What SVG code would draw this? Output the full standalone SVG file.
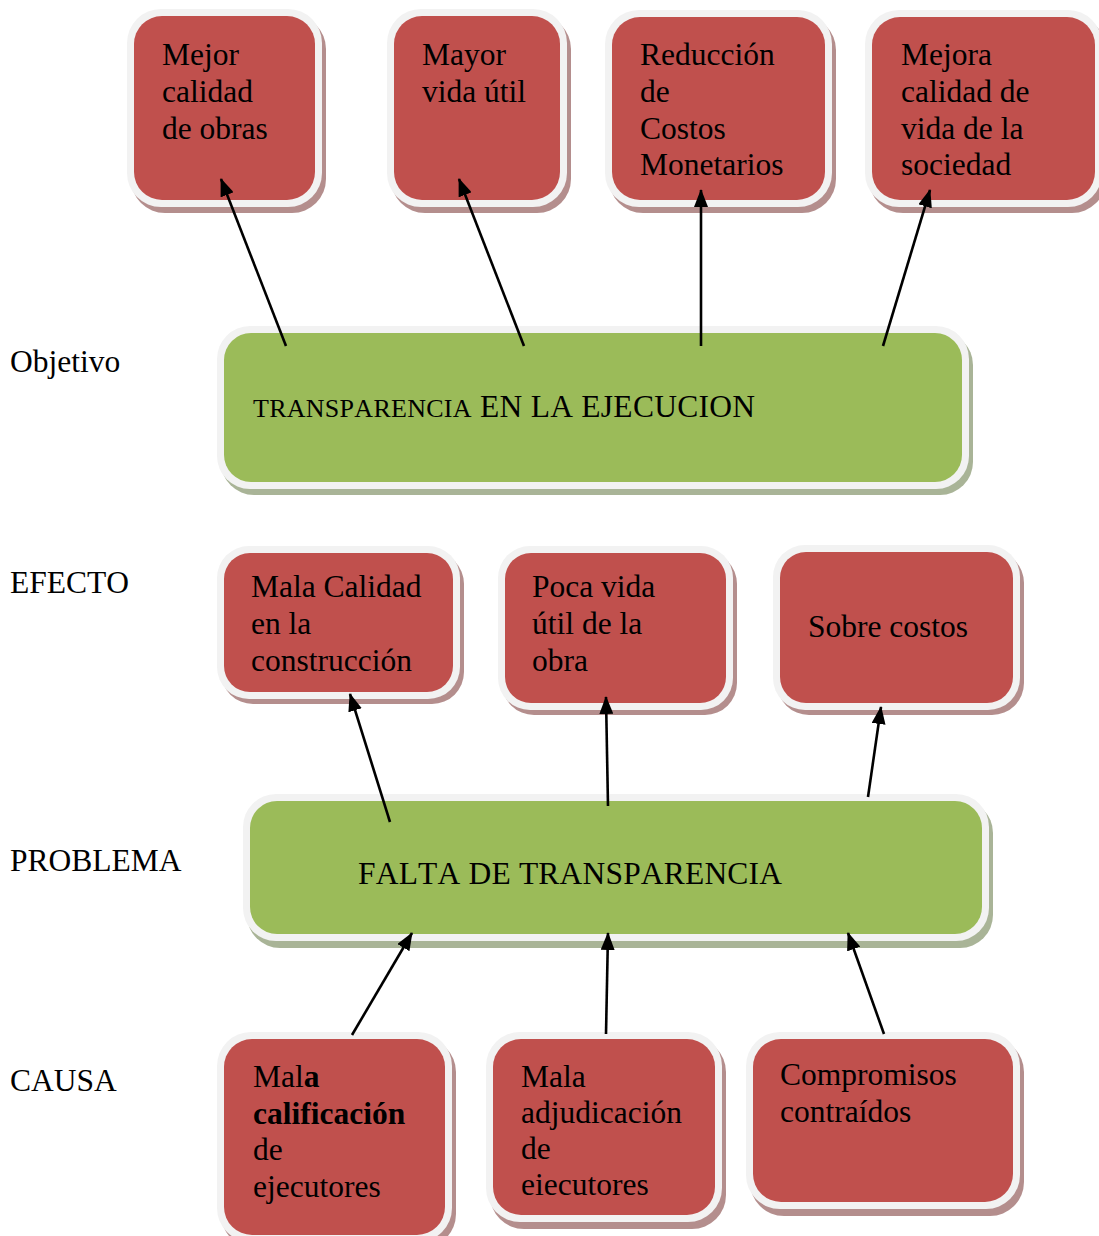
<svg xmlns="http://www.w3.org/2000/svg" width="1099" height="1236" viewBox="0 0 1099 1236">
<style>
.t{font-family:"Liberation Serif","Times New Roman",serif;font-size:31.5px;fill:#000;font-kerning:none;font-feature-settings:"kern" 0}
.b{font-weight:bold}
.sm{font-size:26px}
.sr{fill:#b48e8d}
.sg{fill:#a9b497}
.w{fill:#f2f2f2}
.r{fill:#c0504d}
.g{fill:#9bbb59}
.c{stroke:#000;stroke-width:2.6;fill:none;marker-end:url(#ah)}
</style>
<defs>
<marker id="ah" markerUnits="userSpaceOnUse" markerWidth="18" markerHeight="14" refX="17" refY="7" orient="auto" viewBox="0 0 18 14">
<path d="M0,0 L18,7 L0,14 z" fill="#000"/>
</marker>
</defs>
<rect width="1099" height="1236" fill="#fff"/>

<g id="labels">
<text class="t" x="10" y="372">Objetivo</text>
<text class="t" x="10" y="593">EFECTO</text>
<text class="t" x="10" y="871">PROBLEMA</text>
<text class="t" x="10" y="1091">CAUSA</text>
</g>

<g id="n_mejor_calidad">
<rect class="sr" x="131" y="15" width="195" height="198" rx="34"/>
<rect class="w" x="127" y="9" width="195" height="198" rx="34"/>
<rect class="r" x="134" y="16" width="181" height="184" rx="28"/>
<text class="t" x="162" y="65">Mejor</text>
<text class="t" x="162" y="102">calidad</text>
<text class="t" x="162" y="139">de obras</text>
</g>

<g id="n_mayor_vida">
<rect class="sr" x="391" y="15" width="180" height="198" rx="34"/>
<rect class="w" x="387" y="9" width="180" height="198" rx="34"/>
<rect class="r" x="394" y="16" width="166" height="184" rx="28"/>
<text class="t" x="422" y="65">Mayor</text>
<text class="t" x="422" y="102">vida útil</text>
</g>

<g id="n_reduccion">
<rect class="sr" x="609" y="16" width="227" height="197" rx="34"/>
<rect class="w" x="605" y="10" width="227" height="197" rx="34"/>
<rect class="r" x="612" y="17" width="213" height="183" rx="28"/>
<text class="t" x="640" y="65">Reducción</text>
<text class="t" x="640" y="102">de</text>
<text class="t" x="640" y="139">Costos</text>
<text class="t" x="640" y="175">Monetarios</text>
</g>

<g id="n_mejora_vida">
<rect class="sr" x="869" y="16" width="237" height="197" rx="34"/>
<rect class="w" x="865" y="10" width="237" height="197" rx="34"/>
<rect class="r" x="872" y="17" width="223" height="183" rx="28"/>
<text class="t" x="901" y="65">Mejora</text>
<text class="t" x="901" y="102">calidad de</text>
<text class="t" x="901" y="139">vida de la</text>
<text class="t" x="901" y="175">sociedad</text>
</g>

<g id="n_objetivo">
<rect class="sg" x="221" y="332" width="752" height="163" rx="33"/>
<rect class="w" x="217" y="326" width="752" height="163" rx="33"/>
<rect class="g" x="224" y="333" width="738" height="149" rx="27"/>
<text class="t" x="253" y="417" textLength="502" lengthAdjust="spacing"><tspan class="sm">TRANSPARENCIA</tspan> EN LA EJECUCION</text>
</g>

<g id="n_mala_calidad">
<rect class="sr" x="221" y="552" width="243" height="152" rx="32"/>
<rect class="w" x="217" y="546" width="243" height="153" rx="32"/>
<rect class="r" x="224" y="553" width="229" height="139" rx="26"/>
<text class="t" x="251" y="597">Mala Calidad</text>
<text class="t" x="251" y="634">en la</text>
<text class="t" x="251" y="671">construcción</text>
</g>

<g id="n_poca_vida">
<rect class="sr" x="502" y="552" width="235" height="163" rx="32"/>
<rect class="w" x="498" y="546" width="235" height="164" rx="32"/>
<rect class="r" x="505" y="553" width="221" height="150" rx="26"/>
<text class="t" x="532" y="597">Poca vida</text>
<text class="t" x="532" y="634">útil de la</text>
<text class="t" x="532" y="671">obra</text>
</g>

<g id="n_sobre_costos">
<rect class="sr" x="777" y="551" width="247" height="164" rx="32"/>
<rect class="w" x="773" y="545" width="247" height="165" rx="32"/>
<rect class="r" x="780" y="552" width="233" height="151" rx="26"/>
<text class="t" x="808" y="637">Sobre costos</text>
</g>

<g id="n_problema">
<rect class="sg" x="247" y="800" width="746" height="148" rx="33"/>
<rect class="w" x="243" y="794" width="746" height="147" rx="33"/>
<rect class="g" x="250" y="801" width="732" height="133" rx="27"/>
<text class="t" x="358" y="884" textLength="424" lengthAdjust="spacing">FALTA DE TRANSPARENCIA</text>
</g>

<g id="n_mala_calificacion">
<rect class="sr" x="221" y="1038" width="235" height="210" rx="34"/>
<rect class="w" x="217" y="1032" width="235" height="210" rx="34"/>
<rect class="r" x="224" y="1039" width="221" height="196" rx="28"/>
<text class="t" x="253" y="1087">Mal<tspan class="b">a</tspan></text>
<text class="t b" x="253" y="1124">calificación</text>
<text class="t" x="253" y="1160">de</text>
<text class="t" x="253" y="1197">ejecutores</text>
</g>

<g id="n_mala_adjudicacion">
<rect class="sr" x="490" y="1038" width="236" height="191" rx="34"/>
<rect class="w" x="486" y="1032" width="236" height="190" rx="34"/>
<rect class="r" x="493" y="1039" width="222" height="176" rx="28"/>
<text class="t" x="521" y="1087">Mala</text>
<text class="t" x="521" y="1123">adjudicación</text>
<text class="t" x="521" y="1159">de</text>
<text class="t" x="521" y="1195">eiecutores</text>
</g>

<g id="n_compromisos">
<rect class="sr" x="750" y="1038" width="274" height="178" rx="34"/>
<rect class="w" x="746" y="1032" width="274" height="177" rx="34"/>
<rect class="r" x="753" y="1039" width="260" height="163" rx="28"/>
<text class="t" x="780" y="1085">Compromisos</text>
<text class="t" x="780" y="1122">contraídos</text>
</g>

<g id="connectors">
<path class="c" d="M286,346 L221,179"/>
<path class="c" d="M524,346 L459,179"/>
<path class="c" d="M701,346 L701,190"/>
<path class="c" d="M883,346 L930,190"/>
<path class="c" d="M390,822 L350,694"/>
<path class="c" d="M608,806 L606,697"/>
<path class="c" d="M868,797 L881,707"/>
<path class="c" d="M352,1035 L412,933"/>
<path class="c" d="M606,1034 L608,933"/>
<path class="c" d="M884,1034 L848,933"/>
</g>
</svg>
